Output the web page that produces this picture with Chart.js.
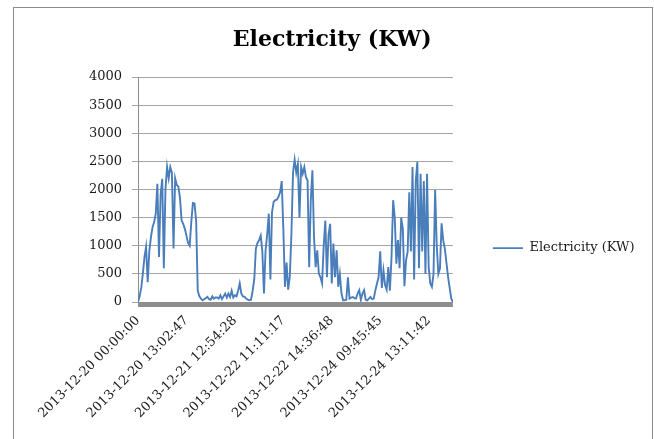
<!DOCTYPE html>
<html>
<head>
<meta charset="utf-8">
<script src="https://cdn.jsdelivr.net/npm/chart.js@4"></script>
<style>
html,body{margin:0;padding:0;background:#fff;}
#frame{position:absolute;left:13px;top:7px;width:640px;height:440px;border:1px solid #8c8c8c;box-sizing:border-box;}
#wrap{position:absolute;left:0;top:0;width:654px;height:439px;}
</style>
</head>
<body>
<div id="frame"></div>
<div id="wrap"><canvas id="c" width="654" height="439"></canvas></div>
<script>
const seriesName = 'Electricity (KW)';
const tickLabels = [
  '2013-12-20 00:00:00',
  '2013-12-20 13:02:47',
  '2013-12-21 12:54:28',
  '2013-12-22 11:11:17',
  '2013-12-22 14:36:48',
  '2013-12-24 09:45:45',
  '2013-12-24 13:11:42'
];
const labelStep = 30;
const electricity = [
  0, 100, 250, 500, 800, 980, 350, 900, 1150, 1330,
  1420, 1570, 2100, 800, 1900, 2190, 600, 2000, 2400, 2200,
  2400, 2300, 950, 2200, 2080, 2050, 1850, 1450, 1390, 1300,
  1180, 1050, 1000, 1420, 1760, 1750, 1450, 200, 100, 60,
  30, 50, 70, 90, 50, 40, 100, 60, 80,
  80, 60, 120, 50, 100, 150, 80, 150, 90, 200,
  80, 120, 100, 200, 330, 150, 100, 90, 60, 40,
  30, 40, 200, 400, 950, 1050, 1100, 1180, 900, 150,
  920, 1200, 1570, 400, 1600, 1780, 1810, 1820, 1870, 1950,
  2150, 1300, 270, 700, 220, 450, 1200, 2300,
  2530, 2300, 2450, 1500, 2400, 2280, 2400, 2220, 2160, 620,
  1800, 2340, 1160, 620, 920, 500, 440, 330, 1000, 1450,
  440, 1200, 1390, 330, 1040, 440, 920, 270, 500, 150,
  30, 30, 40, 440, 60, 80, 90, 70, 60, 150,
  210, 40, 150, 210, 40, 30, 60, 90,
  50, 60, 210, 330, 440, 900, 250, 560, 300, 220,
  620, 200, 800, 1810, 1500, 680, 1100, 600, 1500, 1300,
  280, 740, 900, 1950, 900, 2400, 400, 2150, 2490, 600,
  2280, 900, 2150, 500, 2280, 620, 330, 270, 500, 1990,
  1000, 500, 600, 1400, 1100, 950, 700, 450, 250, 60,
  0
];

const floorBand = {
  id: 'floorBand',
  beforeDatasetsDraw(chart) {
    const {ctx, chartArea, scales} = chart;
    const y0 = scales.y.getPixelForValue(0);
    ctx.save();
    ctx.fillStyle = '#8e8e8e';
    ctx.fillRect(chartArea.left, y0, chartArea.right - chartArea.left, 5);
    ctx.restore();
  }
};

const serif = 'DejaVu Serif';
new Chart(document.getElementById('c'), {
  type: 'line',
  data: {
    datasets: [{
      label: seriesName,
      data: electricity.map((v, i) => ({x: i, y: v})),
      borderColor: '#4a7ebb',
      backgroundColor: '#4a7ebb',
      borderWidth: 1.9,
      pointRadius: 0,
      tension: 0,
      fill: false
    }]
  },
  options: {
    responsive: false,
    animation: false,
    devicePixelRatio: 1,
    layout: {padding: {left: 20, right: 9.5, top: 0, bottom: 0}},
    plugins: {
      title: {
        display: true,
        text: 'Electricity (KW)',
        color: '#000',
        font: {family: serif, size: 22, weight: 'bold'},
        padding: {top: 27, bottom: 23.6}
      },
      legend: {
        position: 'right',
        align: 'center',
        maxWidth: 260,
        title: {display: true, text: '', padding: {top: 50, bottom: 0}, font: {size: 6}},
        labels: {
          usePointStyle: true,
          pointStyle: 'line',
          pointStyleWidth: 30,
          padding: 40,
          color: '#1a1a1a',
          font: {family: serif, size: 13}
        }
      },
      tooltip: {enabled: false}
    },
    scales: {
      x: {
        type: 'linear',
        min: 0,
        max: electricity.length - 1,
        grid: {display: false, drawTicks: false},
        border: {display: false},
        ticks: {
          stepSize: labelStep,
          includeBounds: false,
          autoSkip: false,
          maxRotation: 45,
          minRotation: 45,
          padding: 11,
          color: '#1a1a1a',
          font: {family: serif, size: 13},
          callback: (v) => (v % labelStep === 0 ? tickLabels[v / labelStep] : '')
        },
        afterFit(s) { s.height = 137; }
      },
      y: {
        min: 0,
        max: 4000,
        ticks: {stepSize: 500, padding: 10, color: '#1a1a1a', font: {family: serif, size: 13},
                callback: (v) => String(v)},
        grid: {color: '#a6a6a6', lineWidth: 1, tickLength: 6},
        border: {color: '#8c8c8c'},
        afterFit(s) { s.width = 118; }
      }
    }
  },
  plugins: [floorBand]
});
</script>
</body>
</html>
